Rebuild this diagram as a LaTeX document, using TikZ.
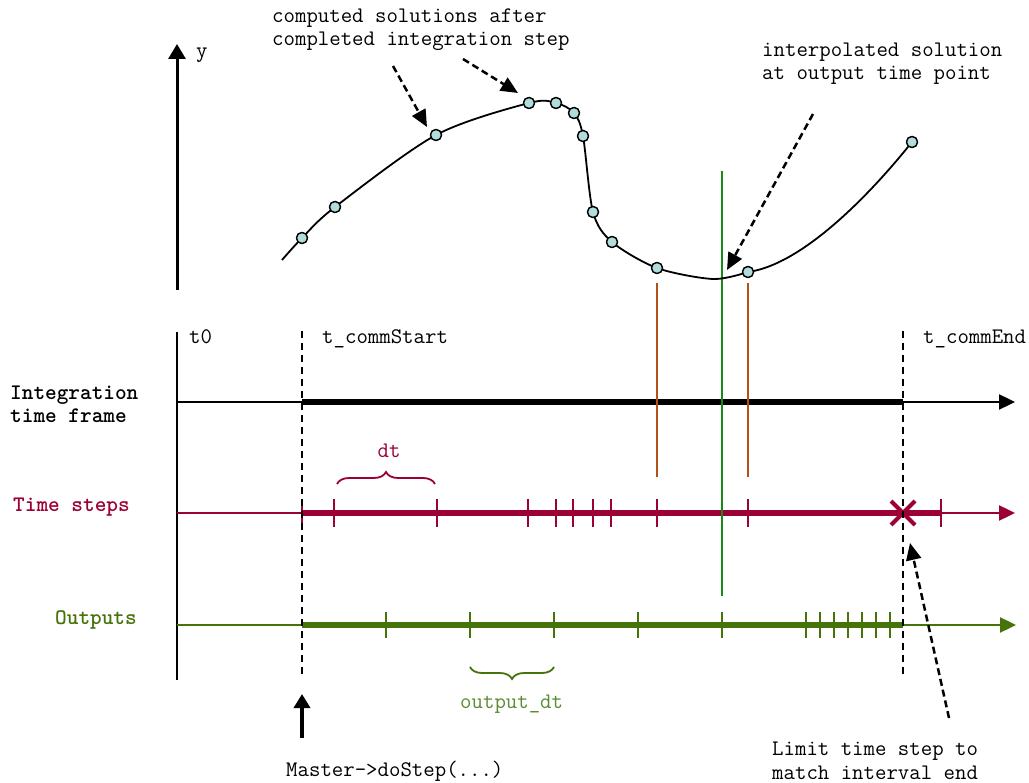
\documentclass[tikz,border=0pt]{standalone}
\usepackage{fontspec}
\usetikzlibrary{arrows.meta,decorations.pathreplacing}
\definecolor{crim}{HTML}{9B0037}
\definecolor{outg}{HTML}{46730A}
\definecolor{outgl}{HTML}{5A8A32}
\definecolor{vgreen}{HTML}{178A17}
\definecolor{orng}{HTML}{B4501A}
\definecolor{dotfill}{HTML}{B0DCDC}
\begin{document}
\begin{tikzpicture}[x=1pt,y=-1pt,
  txt/.style={font=\ttfamily\fontsize{22.2}{26}\selectfont, inner sep=0pt, anchor=base west},
  btxt/.style={font=\ttfamily\bfseries\fontsize{22.2}{26}\selectfont, inner sep=0pt, anchor=base west},
  dot/.style={circle, draw=black, fill=dotfill, line width=1.3pt, minimum size=11pt, inner sep=0pt},
  axtip/.style={-{Triangle[length=16pt,width=15pt]}},
  thinax/.style={line width=2.4pt, axtip},
  thickax/.style={line width=6.5pt},
  tick/.style={line width=2pt},
  vdash/.style={line width=2pt, dash pattern=on 7pt off 5pt},
  annot/.style={line width=2.5pt, dash pattern=on 7pt off 4pt, -{Triangle[length=17pt,width=15pt]}},
  brc/.style={decorate, decoration={brace, amplitude=12pt}, line width=1.8pt}
]
\useasboundingbox (0,0) rectangle (1029,783);

% ---------- top: y axis ----------
\coordinate (ybot) at (177,290);
\coordinate (ytop) at (177,44);
\draw[line width=3pt, -{Triangle[length=15pt,width=17pt]}] (ybot) -- (ytop);
\node[txt] (ylab) at (196,58) {y};

% ---------- time axis ----------
\coordinate (tvtop) at (177,332);
\coordinate (tvbot) at (177,680);
\draw[line width=2pt] (tvtop) -- (tvbot);

% integration time frame
\coordinate (ia) at (177,402);
\coordinate (ib) at (302,402);
\coordinate (ic) at (903,402);
\coordinate (ie) at (1015,402);
\draw[thinax, black] (ia) -- (ie);
\draw[thickax, black] (ib) -- (ic);

% time steps
\coordinate (ta) at (177,513);
\coordinate (tb) at (302,513);
\coordinate (tc) at (941,513);
\coordinate (te) at (1015,513);
\draw[thinax, crim] (ta) -- (te);
\draw[thickax, crim] (tb) -- (tc);
\foreach \x in {302,334,437,528,556,573,593,611,657,748,941}
  \draw[tick, crim] (\x,499) -- (\x,527);
\coordinate (xm) at (903,513);
\draw[crim, line width=4pt] ([shift={(-12,-12)}]xm) -- ([shift={(12,12)}]xm)
  ([shift={(-12,12)}]xm) -- ([shift={(12,-12)}]xm);

% outputs
\coordinate (oa) at (177,625);
\coordinate (ob) at (302,625);
\coordinate (oc) at (903,625);
\coordinate (oe) at (1016,625);
\draw[thinax, outg] (oa) -- (oe);
\draw[line width=6pt, outg] (ob) -- (oc);
\foreach \x in {386,470,554,638,722,806,820,834,848,862,876,890}
  \draw[tick, outg] (\x,612) -- (\x,638);

% braces
\coordinate (dtl) at (337,484);
\coordinate (dtr) at (435,484);
\draw[brc, crim] (dtl) -- (dtr);
\node[txt, anchor=base, text=crim] (dtlab) at (389,458) {dt};
\coordinate (odl) at (554,667);
\coordinate (odr) at (470,667);
\draw[brc, outg] (odl) -- (odr);
\node[txt, text=outgl] (odlab) at (460,708) {output\_dt};

% vertical marker lines
\coordinate (o1t) at (657,283);
\coordinate (o1b) at (657,477);
\coordinate (o2t) at (748,283);
\coordinate (o2b) at (748,477);
\draw[orng, line width=1.8pt] (o1t) -- (o1b);
\draw[orng, line width=1.8pt] (o2t) -- (o2b);
\coordinate (gt) at (722,171);
\coordinate (gb) at (722,596);
\draw[vgreen, line width=2pt] (gt) -- (gb);

% dashed vertical lines
\coordinate (d1t) at (302,331);
\coordinate (d1b) at (302,676);
\coordinate (d2t) at (903,331);
\coordinate (d2b) at (903,676);
\draw[vdash] (d1t) -- (d1b);
\draw[vdash] (d2t) -- (d2b);

% ---------- curve ----------
\coordinate (c0) at (282,260);
\coordinate (cmin) at (713,279);
\node[dot] (p1) at (302,238) {};
\node[dot] (p2) at (335,207) {};
\node[dot] (p3) at (436,135) {};
\node[dot] (p4) at (529,103) {};
\node[dot] (p5) at (556,103) {};
\node[dot] (p6) at (574,113) {};
\node[dot] (p7) at (583,136) {};
\node[dot] (p8) at (593,212) {};
\node[dot] (p9) at (612,242) {};
\node[dot] (p10) at (657,268) {};
\node[dot] (p11) at (748,272) {};
\node[dot] (p12) at (912,142) {};
\coordinate (k1) at (800,265);
\coordinate (k2) at (865,200);
\draw[line width=1.8pt] plot[smooth, tension=0.5] coordinates {(c0) (p1) (p2) (p3) (p4) (p5) (p6) (p7) (p8) (p9) (p10) (cmin) (p11)}
  .. controls (k1) and (k2) .. (p12);
\foreach \p in {p1,p2,p3,p4,p5,p6,p7,p8,p9,p10,p11,p12}
  \node[dot] at (\p) {};

% ---------- annotations ----------
\node[txt] (an1a) at (272,23) {computed solutions after};
\node[txt] (an1b) at (272,46) {completed integration step};
\coordinate (a1s) at (393,66);
\coordinate (a1e) at (427,127);
\coordinate (a2s) at (463,59);
\coordinate (a2e) at (518,93);
\draw[annot] (a1s) -- (a1e);
\draw[annot] (a2s) -- (a2e);

\node[txt] (an2a) at (762,57) {interpolated solution};
\node[txt] (an2b) at (762,80) {at output time point};
\coordinate (a3s) at (813,114);
\coordinate (a3e) at (727,270);
\draw[annot] (a3s) -- (a3e);

\node[txt] (an3a) at (772,755) {Limit time step to};
\node[txt] (an3b) at (772,779) {match interval end};
\coordinate (a4s) at (949,718);
\coordinate (a4e) at (910,543);
\draw[annot] (a4s) -- (a4e);

\coordinate (ms) at (302,738);
\coordinate (me) at (302,694);
\draw[line width=4pt, -{Triangle[length=14pt,width=16pt]}] (ms) -- (me);
\node[txt] (mlab) at (286,776) {Master->doStep(...)};

% ---------- axis labels ----------
\node[txt] (t0) at (189,344) {t0};
\node[txt] (tcs) at (322,344) {t\_commStart};
\node[txt] (tce) at (923,344) {t\_commEnd};
\node[btxt] (il1) at (10,400) {Integration};
\node[btxt] (il2) at (10,423) {time frame};
\node[btxt, text=crim] (tsl) at (13,512) {Time steps};
\node[btxt, text=outg] (outl) at (55,624) {Outputs};
\end{tikzpicture}
\end{document}
